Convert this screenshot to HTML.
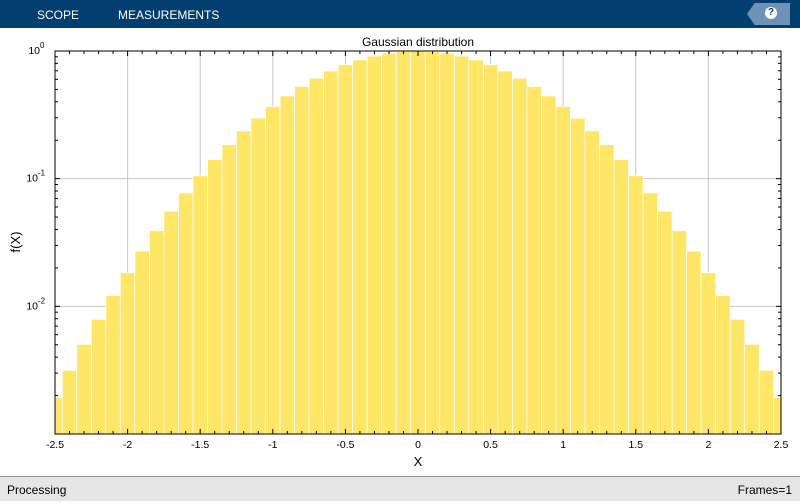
<!DOCTYPE html>
<html><head><style>
body{margin:0;width:800px;height:500px;overflow:hidden;background:#fff;font-family:"Liberation Sans",sans-serif;}
#top{position:absolute;left:0;top:0;width:800px;height:28px;background:#023e6f;}
#top span{position:absolute;top:8px;color:#fff;font-size:12px;}
#status{position:absolute;left:0;top:476px;width:800px;height:24px;background:#e6e6e6;border-top:1px solid #999;font-size:12px;}
</style></head><body>
<div id="top"><span style="left:37px">SCOPE</span><span style="left:118px">MEASUREMENTS</span>
<div style="position:absolute;left:747px;top:3px;width:43px;height:22px;background:#6f93b8;clip-path:polygon(18% 0,100% 0,100% 100%,18% 100%,0 50%)"></div>
<div style="position:absolute;left:765px;top:7px;width:12px;height:12px;border-radius:50%;background:#fff;color:#023e6f;font-size:10px;font-weight:bold;text-align:center;line-height:12px">?</div>
</div>
<svg id="s" width="800" height="476" style="position:absolute;left:0;top:28px" font-family="Liberation Sans,sans-serif"></svg>
<div id="status"><span style="position:absolute;left:7px;top:6px">Processing</span><span style="position:absolute;right:8px;top:6px">Frames=1</span></div>
<script>
var L=55,R=781,T=23,B=406;
function X(v){return L+(v+2.5)*(R-L)/5;}
function Y(v){return T+(-Math.log10(v))*(B-T)/3;}
var h='';
h+='<text x="418" y="18" font-size="12" text-anchor="middle">Gaussian distribution</text>';
for(var i=-5;i<=5;i++){var x=X(i*0.5);h+='<line x1="'+x+'" x2="'+x+'" y1="'+T+'" y2="'+B+'" stroke="#c8c8c8"/>';}
[1,0.1,0.01].forEach(function(v){var y=Y(v);h+='<line x1="'+L+'" x2="'+R+'" y1="'+y+'" y2="'+y+'" stroke="#c8c8c8"/>';});
for(var k=-25;k<=25;k++){var a=Math.max(-2.5,(k-0.5)*0.1),b=Math.min(2.5,(k+0.5)*0.1);var c=k*0.1;var v=Math.exp(-c*c);var y=Y(v);
h+='<rect x="'+X(a)+'" y="'+y+'" width="'+(X(b)-X(a))+'" height="'+(B-y)+'" fill="#ffe666" stroke="#fff" stroke-width="0.8"/>';}
h+='<rect x="'+L+'" y="'+T+'" width="'+(R-L)+'" height="'+(B-T)+'" fill="none" stroke="#000" stroke-width="1"/>';
for(var i=-25;i<=25;i++){var x=X(i*0.1);var l=(i%5==0)?5:3;h+='<line x1="'+x+'" x2="'+x+'" y1="'+B+'" y2="'+(B-l)+'" stroke="#000"/><line x1="'+x+'" x2="'+x+'" y1="'+T+'" y2="'+(T+l)+'" stroke="#000"/>';}
for(var d=-3;d<0;d++)for(var m=1;m<10;m++){var y=Y(m*Math.pow(10,d));var l=m==1?5:3;h+='<line x1="'+L+'" x2="'+(L+l)+'" y1="'+y+'" y2="'+y+'" stroke="#000"/><line x1="'+R+'" x2="'+(R-l)+'" y1="'+y+'" y2="'+y+'" stroke="#000"/>';}
var lab=['-2.5','-2','-1.5','-1','-0.5','0','0.5','1','1.5','2','2.5'];
for(var i=0;i<11;i++)h+='<text x="'+X(-2.5+i*0.5)+'" y="420" font-size="10.5" text-anchor="middle">'+lab[i]+'</text>';
[[0,T],[-1,Y(0.1)],[-2,Y(0.01)]].forEach(function(p){h+='<text x="'+(p[0]==0?40:38)+'" y="'+(p[1]+3)+'" font-size="10.5" text-anchor="end">10</text><text x="'+(p[0]==0?40:38)+'" y="'+(p[1]-3)+'" font-size="8">'+p[0]+'</text>';});
h+='<text x="418" y="438" font-size="13" text-anchor="middle">X</text>';
h+='<text transform="translate(20,214) rotate(-90)" font-size="13" text-anchor="middle">f(X)</text>';
document.getElementById('s').innerHTML=h;
</script>
</body></html>
